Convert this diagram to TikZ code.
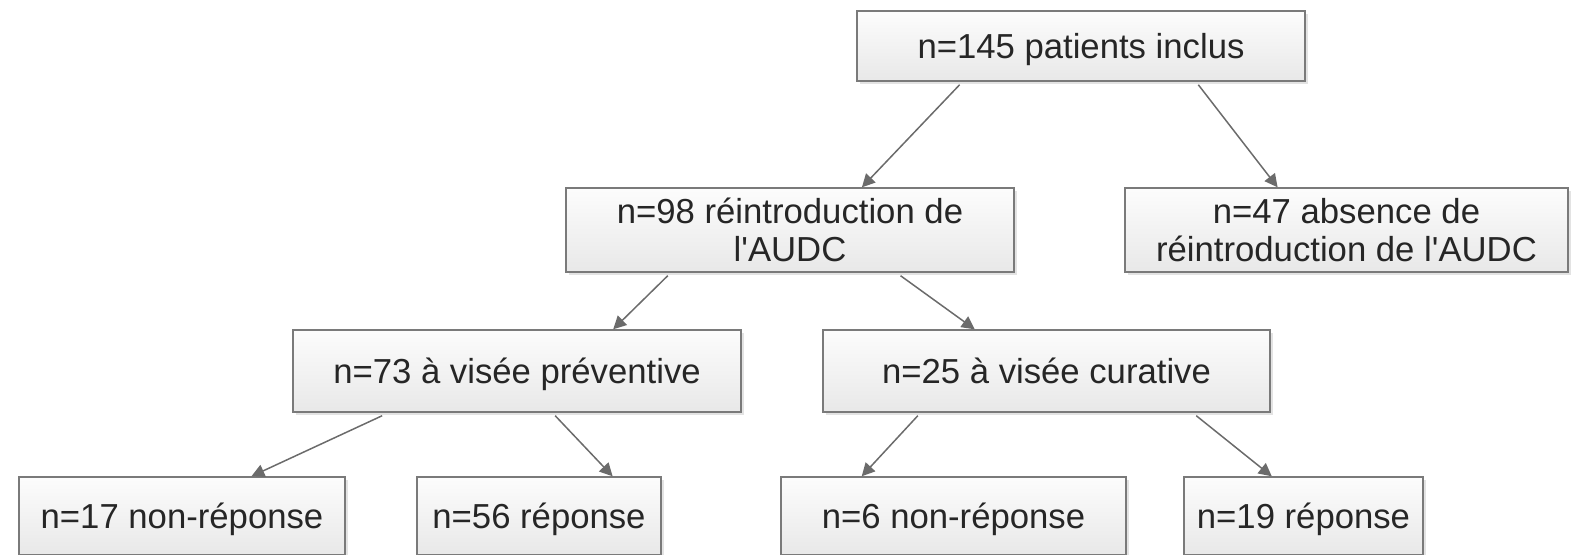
\documentclass[tikz,border=0pt]{standalone}
\usepackage{fontspec}
\setmainfont{Liberation Sans}
\usetikzlibrary{calc,arrows.meta,shadows}
\begin{document}
\begin{tikzpicture}[x=0.5pt,y=-0.5pt,line cap=butt,line join=miter]
				\tikzset{boite/.style={draw=black!52,line width=0.7pt,top color=black!1,bottom color=black!9,
						drop shadow={opacity=.22,shadow xshift=1.3pt,shadow yshift=-1.3pt},
						inner sep=0pt,align=center,text=black!85,
						font=\fontsize{17.35}{19}\selectfont},
					uneligne/.style={text height=13pt,text depth=1pt},
					fleche/.style={draw=black!58,line width=0.75pt,-{Triangle[length=6.5pt,width=6.5pt]}}
				}
				\useasboundingbox (0,0) rectangle (1571,554);
				\clip (0,0) rectangle (1571,554);
				% niveau 1
				\node[boite,uneligne,minimum width=224pt,minimum height=35pt] (total) at (1081,46) {n=145 patients inclus};
				% niveau 2
				\node[boite,minimum width=224pt,minimum height=42pt] (reintro) at (790,230) {n=98 réintroduction de\\l\textquotesingle AUDC};
				\node[boite,minimum width=221.5pt,minimum height=42pt] (absence) at (1346.5,230) {n=47 absence de\\réintroduction de l\textquotesingle AUDC};
				% niveau 3
				\node[boite,uneligne,minimum width=224pt,minimum height=41pt] (prev) at (517,371) {n=73 à visée préventive};
				\node[boite,uneligne,minimum width=223.5pt,minimum height=41pt] (cur) at (1046.5,371) {n=25 à visée curative};
				% niveau 4
				\node[boite,uneligne,minimum width=163pt,minimum height=39pt] (prevnon) at (182,516) {n=17 non-réponse};
				\node[boite,uneligne,minimum width=122pt,minimum height=39pt] (prevrep) at (539,516) {n=56 réponse};
				\node[boite,uneligne,minimum width=172.5pt,minimum height=39pt] (curnon) at (953.5,516) {n=6 non-réponse};
				\node[boite,uneligne,minimum width=119.5pt,minimum height=39pt] (currep) at (1303.5,516) {n=19 réponse};
				\foreach \a/\fa/\b/\fb in {total/.23/reintro/.66, total/.761/absence/.345,
					reintro/.228/prev/.714, reintro/.746/cur/.34,
					prev/.20/prevnon/.712, prev/.585/prevrep/.80,
					cur/.213/curnon/.235, cur/.834/currep/.368}{
					\draw[fleche] ($(\a.south west)!\fa!(\a.south east)+(0,3)$) -- ($(\b.north west)!\fb!(\b.north east)$);
				}
			\end{tikzpicture}
\end{document}
